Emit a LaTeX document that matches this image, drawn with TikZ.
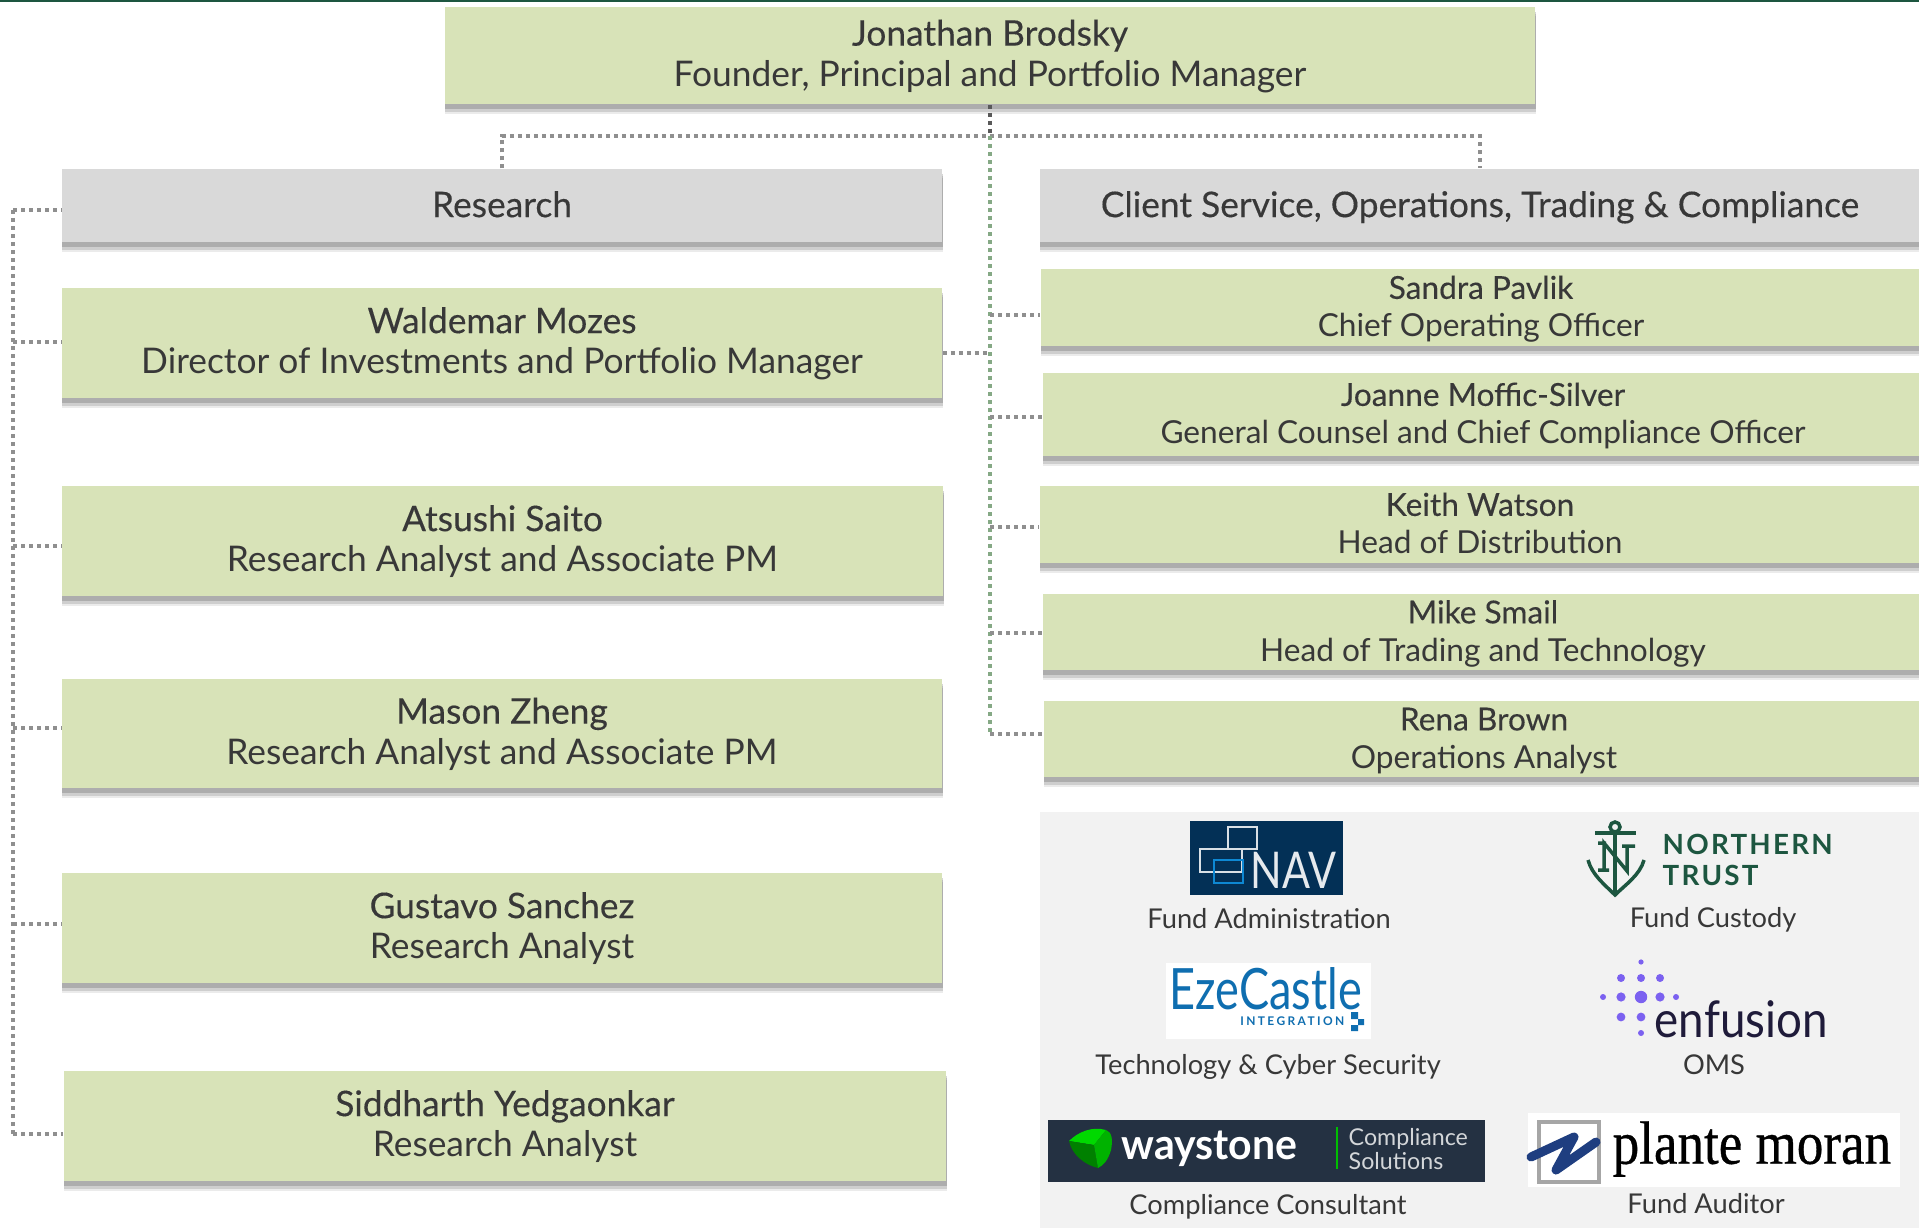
\documentclass[tikz,border=0pt]{standalone}
\usepackage{fontspec}
\setmainfont{Lato}
\newfontfamily\namefont[FakeBold=0.25]{Lato}
\newfontfamily\serifmark[FakeBold=0.6]{Liberation Serif}
\usetikzlibrary{shadows}
\newcommand{\twoline}[2]{\rule{0pt}{8.2pt}{\namefont #1}\\#2\rule[-2.3pt]{0pt}{2.3pt}}
\definecolor{boxgreen}{HTML}{D8E3B8}
\definecolor{boxgray}{HTML}{D9D9D9}
\definecolor{panelgray}{HTML}{F2F2F2}
\definecolor{inkdark}{HTML}{383838}
\definecolor{linegray}{HTML}{8F8F8F}
\definecolor{linegreen}{HTML}{85A985}
\definecolor{navblue}{HTML}{033056}
\definecolor{ntgreen}{HTML}{1D5640}
\definecolor{ezeblue}{HTML}{0F6EB0}
\definecolor{waydark}{HTML}{243142}
\definecolor{enfviolet}{HTML}{7B61F0}
\definecolor{enfink}{HTML}{1F1B3A}
\definecolor{planteblue}{HTML}{1F3E80}
\tikzset{
  softshadow/.style={
    general shadow={shadow xshift=0.005cm,shadow yshift=-0.095cm,opacity=0.08,fill=black},
    general shadow={shadow xshift=0.005cm,shadow yshift=-0.075cm,opacity=0.12,fill=black},
    general shadow={shadow xshift=0.005cm,shadow yshift=-0.05cm,opacity=0.16,fill=black}},
  orgbox/.style={softshadow,fill=boxgreen,text=inkdark,align=center,inner sep=0pt,
    font=\fontsize{10.05}{11.5}\selectfont},
  smallbox/.style={orgbox,font=\fontsize{9}{10.8}\selectfont},
  headbox/.style={orgbox,fill=boxgray,font=\namefont\fontsize{10.05}{11.5}\selectfont,
    execute at begin node={\rule{0pt}{9.6pt}},
    execute at end node={\rule[-3pt]{0pt}{3pt}}},
  dotline/.style={linegray,line width=0.04cm,dash pattern=on 0.04cm off 0.04cm},
  greenline/.style={dotline,linegreen},
  logolabel/.style={text=inkdark,inner sep=0pt,font=\fontsize{7.75}{9}\selectfont},
  logomark/.style={inner sep=0pt,anchor=west},
  anchorline/.style={ntgreen,line width=0.035cm},
}
\begin{document}
\begin{tikzpicture}[x=0.01cm,y=-0.01cm]
  \useasboundingbox (0,0) rectangle (1919,1228);
  \fill[ntgreen] (0,0) rectangle (1919,2);
  \fill[panelgray] (1040,812) rectangle (1919,1228);

  % top of the chart
  \node[orgbox,minimum width=10.9cm,minimum height=0.97cm] (brodsky) at (990,55.5)
    {\twoline{Jonathan Brodsky}{Founder, Principal and Portfolio Manager}};
  \node[headbox,minimum width=8.8cm,minimum height=0.73cm] (research) at (502,205.5) {Research};
  \node[headbox,minimum width=8.8cm,minimum height=0.73cm] (client) at (1480,205.5)
    {Client Service, Operations, Trading \& Compliance};

  % research column
  \node[orgbox,minimum width=8.8cm,minimum height=1.1cm] (mozes) at (502,343)
    {\twoline{Waldemar Mozes}{Director of Investments and Portfolio Manager}};
  \node[orgbox,minimum width=8.81cm,minimum height=1.1cm] (saito) at (502.5,541)
    {\twoline{Atsushi Saito}{Research Analyst and Associate PM}};
  \node[orgbox,minimum width=8.8cm,minimum height=1.09cm] (zheng) at (502,733.5)
    {\twoline{Mason Zheng}{Research Analyst and Associate PM}};
  \node[orgbox,minimum width=8.8cm,minimum height=1.1cm] (sanchez) at (502,928)
    {\twoline{Gustavo Sanchez}{Research Analyst}};
  \node[orgbox,minimum width=8.82cm,minimum height=1.1cm] (yedgaonkar) at (505,1126)
    {\twoline{Siddharth Yedgaonkar}{Research Analyst}};

  % client service column
  \node[smallbox,minimum width=8.8cm,minimum height=0.77cm] (pavlik) at (1481,307.5)
    {\twoline{Sandra Pavlik}{Chief Operating Officer}};
  \node[smallbox,minimum width=8.8cm,minimum height=0.83cm] (moffic) at (1483,414.5)
    {\twoline{Joanne Moffic-Silver}{General Counsel and Chief Compliance Officer}};
  \node[smallbox,minimum width=8.8cm,minimum height=0.77cm] (watson) at (1480,524.5)
    {\twoline{Keith Watson}{Head of Distribution}};
  \node[smallbox,minimum width=8.8cm,minimum height=0.76cm] (smail) at (1483,632)
    {\twoline{Mike Smail}{Head of Trading and Technology}};
  \node[smallbox,minimum width=8.8cm,minimum height=0.76cm] (brown) at (1484,739)
    {\twoline{Rena Brown}{Operations Analyst}};

  % connectors
  \coordinate (midtop) at (990,136);
  \coordinate (midend) at (990,734);
  \coordinate (lefttop) at (13,210);
  \coordinate (leftend) at (13,1134);
  \draw[dotline] (research.north) -- (research.north |- midtop) -- (client.north |- midtop) -- (client.north);
  \draw[greenline] (midtop) -- (midend);
  \draw[dotline,black!65] (brodsky.south -| midtop) -- (midtop);
  \draw[dotline] (lefttop) -- (leftend);
  \foreach \boxname/\ypos in {pavlik/315,moffic/417,watson/527,smail/633,brown/734}
    \draw[dotline] (midtop |- 0,\ypos) -- (\boxname.west |- 0,\ypos);
  \draw[dotline] (mozes.east |- 0,353) -- (midtop |- 0,353);
  \foreach \boxname/\ypos in {research/210,mozes/342,saito/546,zheng/728,sanchez/924,yedgaonkar/1134}
    \draw[dotline] (lefttop |- 0,\ypos) -- (\boxname.west |- 0,\ypos);

  % NAV
  \fill[navblue] (1190,821) rectangle (1343,895);
  \draw[white!85!navblue,line width=0.02cm] (1228,827) rectangle (1257,849);
  \draw[white!85!navblue,line width=0.02cm] (1200,849) rectangle (1242,872);
  \draw[cyan!70!blue,line width=0.02cm] (1214,860) rectangle (1243,883);
  \node[logomark,text=white!90!navblue,font=\fontsize{12}{13}\selectfont] (navmark) at (1250,870) {\scalebox{0.98}[1.2]{NAV}};
  \node[logolabel] (fundadmin) at (1269,919) {Fund Administration};

  % Northern Trust
  \draw[anchorline] (1615,827) circle (5);
  \draw[anchorline] (1595,833) -- (1636,833);
  \draw[anchorline] (1615,832) -- (1615,893);
  \draw[anchorline] (1588,860) .. controls (1592,875) and (1605,885) .. (1615,895)
    .. controls (1625,885) and (1640,875) .. (1644,860);
  \draw[anchorline] (1604,870) -- (1604,843) -- (1627,871) -- (1627,846) (1598,843) -- (1606,843) (1598,870) -- (1609,870) (1622,846) -- (1635,846);
  \node[logomark,text=ntgreen,font=\fontsize{7.9}{8}\bfseries\selectfont] (ntmark) at (1662,844) {\addfontfeature{LetterSpace=8}NORTHERN};
  \node[logomark,text=ntgreen,font=\fontsize{7.9}{8}\bfseries\selectfont] (trustmark) at (1662,875) {\addfontfeature{LetterSpace=8}TRUST};
  \node[logolabel] (custody) at (1713,920) {Fund Custody};

  % Eze Castle
  \fill[white] (1166,963) rectangle (1371,1039);
  \node[logomark,text=ezeblue,font=\fontsize{13.5}{14}\selectfont] (ezemark) at (1169,989) {\scalebox{0.95}[1.2]{EzeCastle}};
  \node[inner sep=0pt,anchor=east,text=ezeblue,font=\fontsize{3.4}{4}\bfseries\selectfont] (ezesub) at (1345,1021) {\addfontfeature{LetterSpace=20}INTEGRATION};
  \fill[ezeblue] (1351,1012) rectangle (1358,1019) (1358,1019) rectangle (1364,1025) (1351,1025) rectangle (1358,1031);
  \node[logolabel] (techlabel) at (1268,1067) {Technology \& Cyber Security};

  % enfusion
  \foreach \xdot/\ydot/\rdot in {1641/962/2.6,1621/978/4,1641/978/4,1660/978/4,1603/997/3,1621/997/4.6,1641/997/6.2,1660/997/4.6,1676/997/3,1621/1017/4.4,1641/1017/4.4,1641/1033/3}
    \fill[enfviolet] (\xdot,\ydot) circle (\rdot);
  \node[logomark,text=enfink,font=\fontsize{12.5}{13}\selectfont] (enfmark) at (1654,1019) {\scalebox{1.04}[1.15]{enfusion}};
  \node[logolabel] (omslabel) at (1714,1065) {OMS};

  % waystone
  \fill[waydark] (1048,1120) rectangle (1485,1182);
  \fill[green!85!black] (1069,1141) .. controls (1078,1132) and (1092,1126) .. (1106,1130) -- (1094,1145) -- cycle;
  \fill[green!50!black] (1069,1141) -- (1094,1145) -- (1098,1168) .. controls (1085,1165) and (1072,1155) .. (1069,1141);
  \fill[green!70!black] (1106,1130) .. controls (1112,1132) and (1113,1140) .. (1111,1150) .. controls (1108,1160) and (1104,1165) .. (1098,1168) -- (1094,1145) -- cycle;
  \node[logomark,text=white,font=\fontsize{11}{12}\bfseries\selectfont] (waymark) at (1121,1149) {\scalebox{1.06}[1.1]{waystone}};
  \fill[green!75!black] (1336,1127) rectangle (1338,1169);
  \node[logomark,align=left,text=white!80!waydark,font=\fontsize{6.6}{6.8}\selectfont] (waysub) at (1348,1149) {Compliance\\Solutions};
  \node[logolabel] (complabel) at (1268,1207) {Compliance Consultant};

  % plante moran
  \fill[white] (1528,1113) rectangle (1900,1187);
  \draw[black!35,line width=0.04cm] (1539,1122) rectangle (1599,1182);
  \draw[planteblue,line width=0.09cm,line cap=round,line join=round] (1531,1157) -- (1574,1137) -- (1556,1170) -- (1596,1142);
  \node[logomark,text=black,font=\serifmark\fontsize{14.5}{15}\selectfont] (plantemark) at (1612,1149) {\scalebox{1.04}[1.2]{plante moran}};
  \node[logolabel] (auditlabel) at (1706,1204) {Fund Auditor};
\end{tikzpicture}
\end{document}
